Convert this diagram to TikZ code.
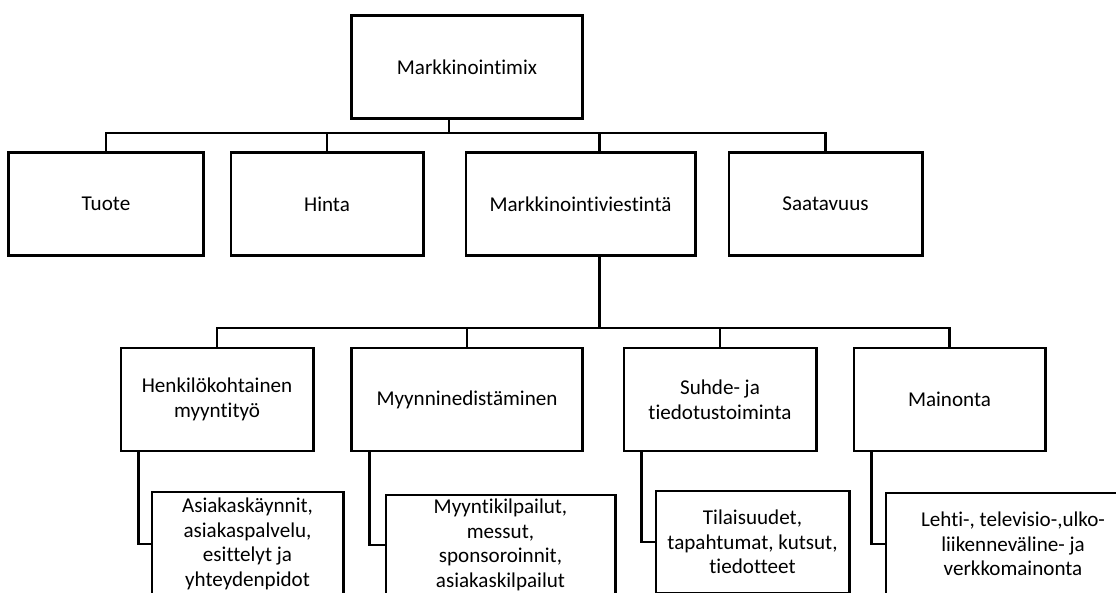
\documentclass[tikz,border=0pt]{standalone}
\usepackage{fontspec}
\setmainfont{Carlito}[Ligatures=NoCommon]
\usetikzlibrary{calc}

\begin{document}
\begin{tikzpicture}[
	x=0.025cm, y=-0.025cm,
	line width=2.1pt,
	every node/.style={
		draw=black,
		line width=2.1pt,
		align=center,
		inner sep=2pt,
		minimum height=2.575cm,
		font=\fontsize{15}{17.5}\selectfont
	}
]
\clip (0,0) rectangle (1116,592);

\node[minimum width=5.75cm] (M0) at (467,67) {Markkinointimix};

\node[minimum width=4.85cm] (M1) at (106,204) {Tuote};
\node[minimum width=4.8cm] (M2) at (327,204) {Hinta};
\node[minimum width=5.725cm] (M3) at (580.5,204) {Markkinointiviestintä};
\node[minimum width=4.825cm] (M4) at (825.5,204) {Saatavuus};

\node[minimum width=4.8cm] (V1) at (217,399.5) {Henkilökohtainen\\myyntityö};
\node[minimum width=5.75cm] (V2) at (467,399.5) {Myynninedistäminen};
\node[minimum width=4.8cm] (V3) at (720,399.5) {Suhde- ja\\tiedotustoiminta};
\node[minimum width=4.775cm] (V4) at (949.5,399.5) {Mainonta};

\node[minimum width=4.775cm, minimum height=2.6cm] (K1) at (247.5,544) {Asiakaskäynnit,\\asiakaspalvelu,\\esittelyt ja\\yhteydenpidot};
\node[minimum width=5.725cm, minimum height=2.5cm] (K2) at (500.5,545) {Myyntikilpailut,\\messut,\\sponsoroinnit,\\asiakaskilpailut};
\node[minimum width=4.825cm, minimum height=2.55cm] (K3) at (752.5,542) {Tilaisuudet,\\tapahtumat, kutsut,\\tiedotteet};
\node[minimum width=6.35cm, minimum height=2.55cm] (K4) at (1013,544) {Lehti-, televisio-,ulko-\\liikenneväline- ja\\verkkomainonta};

% ylin taso
\coordinate (B0) at ($(M0.south)+(-18,13)$);
\draw (M0.south -| B0) -- (B0);
\draw (M1.north) |- (B0) -| (M4.north);
\draw (M2.north) -- (M2.north |- B0);
\coordinate (M3t) at ($(M3.north)+(19,0)$);
\coordinate (M3b) at ($(M3.south)+(19,0)$);
\draw (M3t) -- (M3t |- B0);

% viestinnan keinot
\coordinate (B1) at ($(M3b)+(0,71)$);
\draw[line width=2.6pt] (M3b) -- (B1);
\draw (V1.north) |- (B1) -| (V4.north);
\draw (V2.north) -- (V2.north |- B1);
\draw (V3.north) -- (V3.north |- B1);

\foreach \i in {1,...,4}
	\draw ($(V\i.south west)+(19,0)$) |- (K\i.west);
\end{tikzpicture}
\end{document}
